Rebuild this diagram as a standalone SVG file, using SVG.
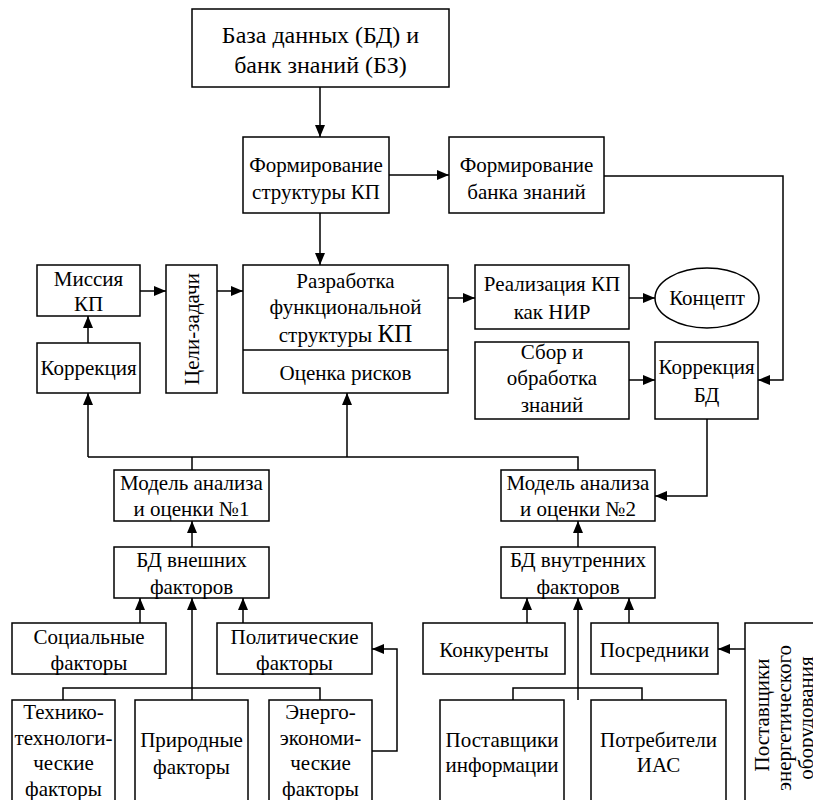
<svg xmlns="http://www.w3.org/2000/svg" width="813" height="800" viewBox="0 0 813 800">
<style>
.n rect,.n ellipse{fill:#fff;stroke:#000;stroke-width:1.5}
text{font-family:'Liberation Serif','Times New Roman',serif;font-size:21px;fill:#000;text-anchor:middle}
.c path,.c line{fill:none;stroke:#000;stroke-width:1.5}
.big{font-size:24px}
</style>
<defs>
<marker id="a" markerUnits="userSpaceOnUse" markerWidth="12" markerHeight="10" refX="12" refY="5" orient="auto">
<path d="M0,0 L12,5 L0,10 Z" fill="#000"/>
</marker>
</defs>
<rect x="0" y="0" width="813" height="800" fill="#fff"/>
<g class="c" id="connectors">
<line x1="320" y1="87" x2="320" y2="137" marker-end="url(#a)"/>
<line x1="389" y1="175" x2="449" y2="175" marker-end="url(#a)"/>
<path d="M604,176 H783 V380 H758" marker-end="url(#a)"/>
<line x1="320" y1="213" x2="320" y2="265" marker-end="url(#a)"/>
<line x1="140" y1="291" x2="166" y2="291" marker-end="url(#a)"/>
<line x1="217" y1="291" x2="243" y2="291" marker-end="url(#a)"/>
<line x1="88" y1="343" x2="88" y2="316" marker-end="url(#a)"/>
<line x1="448" y1="298" x2="475" y2="298" marker-end="url(#a)"/>
<line x1="629" y1="298" x2="655" y2="298" marker-end="url(#a)"/>
<line x1="629" y1="380" x2="655" y2="380" marker-end="url(#a)"/>
<path d="M707,419 V496 H655" marker-end="url(#a)"/>
<path d="M88,457 H578 V470"/>
<line x1="88" y1="457" x2="88" y2="393" marker-end="url(#a)"/>
<line x1="347" y1="457" x2="347" y2="393" marker-end="url(#a)"/>
<line x1="192" y1="470" x2="192" y2="457"/>
<line x1="192" y1="547" x2="192" y2="521" marker-end="url(#a)"/>
<line x1="578" y1="547" x2="578" y2="521" marker-end="url(#a)"/>
<line x1="140" y1="623" x2="140" y2="598" marker-end="url(#a)"/>
<line x1="243" y1="623" x2="243" y2="598" marker-end="url(#a)"/>
<line x1="192" y1="700" x2="192" y2="598" marker-end="url(#a)"/>
<path d="M63,700 V688 H320 V700"/>
<path d="M372,751 H397 V649 H372" marker-end="url(#a)"/>
<line x1="527" y1="623" x2="527" y2="598" marker-end="url(#a)"/>
<line x1="629" y1="623" x2="629" y2="598" marker-end="url(#a)"/>
<line x1="578" y1="700" x2="578" y2="598" marker-end="url(#a)"/>
<path d="M513,700 V688 H642 V700"/>
<line x1="745" y1="649" x2="718" y2="649" marker-end="url(#a)"/>
</g>
<g class="n" id="n-bd-bz"><rect x="192" y="9" width="257" height="78"/><text class="big" x="320.5" y="43">База данных (БД) и</text><text class="big" x="320.5" y="73">банк знаний (БЗ)</text></g>
<g class="n" id="n-form-str"><rect x="243" y="137" width="146" height="76"/><text x="316" y="172">Формирование</text><text x="316" y="199">структуры КП</text></g>
<g class="n" id="n-form-bank"><rect x="449" y="137" width="155" height="76"/><text x="526.5" y="172">Формирование</text><text x="526.5" y="199">банка знаний</text></g>
<g class="n" id="n-missiya"><rect x="37" y="265" width="103" height="51"/><text x="88.5" y="286">Миссия</text><text x="88.5" y="311">КП</text></g>
<g class="n" id="n-korr"><rect x="37" y="343" width="103" height="50"/><text x="88.5" y="375">Коррекция</text></g>
<g class="n" id="n-celi"><rect x="166" y="265" width="51" height="128"/><text transform="translate(199,329) rotate(-90)" x="0" y="0">Цели-задачи</text></g>
<g class="n" id="n-razrab"><rect x="243" y="265" width="205" height="128"/><line x1="243" y1="350" x2="448" y2="350" stroke="#000" stroke-width="1.5"/><text x="345.5" y="288">Разработка</text><text x="345.5" y="314">функциональной</text><text x="345.5" y="342">структуры <tspan font-size="25">КП</tspan></text><text x="345.5" y="380">Оценка рисков</text></g>
<g class="n" id="n-real"><rect x="475" y="265" width="154" height="64"/><text x="552" y="291">Реализация КП</text><text x="552" y="319">как НИР</text></g>
<g class="n" id="n-koncept"><ellipse cx="707" cy="298" rx="52" ry="30"/><text x="707" y="305">Концепт</text></g>
<g class="n" id="n-sbor"><rect x="475" y="342" width="154" height="77"/><text x="552" y="359">Сбор и</text><text x="552" y="385">обработка</text><text x="552" y="412">знаний</text></g>
<g class="n" id="n-korr-bd"><rect x="655" y="342" width="103" height="77"/><text x="706.5" y="374">Коррекция</text><text x="706.5" y="402">БД</text></g>
<g class="n" id="n-model1"><rect x="114" y="470" width="155" height="51"/><text x="191.5" y="490">Модель анализа</text><text x="191.5" y="516">и оценки №1</text></g>
<g class="n" id="n-model2"><rect x="501" y="470" width="154" height="51"/><text x="578" y="490">Модель анализа</text><text x="578" y="516">и оценки №2</text></g>
<g class="n" id="n-bd-vnesh"><rect x="114" y="547" width="155" height="51"/><text x="191.5" y="567">БД внешних</text><text x="191.5" y="594">факторов</text></g>
<g class="n" id="n-bd-vnutr"><rect x="501" y="547" width="154" height="51"/><text x="578" y="567">БД внутренних</text><text x="578" y="594">факторов</text></g>
<g class="n" id="n-soc"><rect x="12" y="623" width="154" height="51"/><text x="89" y="644">Социальные</text><text x="89" y="670">факторы</text></g>
<g class="n" id="n-polit"><rect x="217" y="623" width="155" height="51"/><text x="294.5" y="644">Политические</text><text x="294.5" y="670">факторы</text></g>
<g class="n" id="n-tehn"><rect x="12" y="700" width="103" height="110"/><text x="63.5" y="719">Технико-</text><text x="63.5" y="745">технологи-</text><text x="63.5" y="770">ческие</text><text x="63.5" y="796">факторы</text></g>
<g class="n" id="n-prir"><rect x="135" y="700" width="113" height="110"/><text x="191.5" y="747">Природные</text><text x="191.5" y="774">факторы</text></g>
<g class="n" id="n-energo"><rect x="269" y="700" width="103" height="110"/><text x="320.5" y="719">Энерго-</text><text x="320.5" y="745">экономи-</text><text x="320.5" y="770">ческие</text><text x="320.5" y="796">факторы</text></g>
<g class="n" id="n-konk"><rect x="423" y="623" width="142" height="51"/><text x="494" y="657">Конкуренты</text></g>
<g class="n" id="n-posr"><rect x="591" y="623" width="127" height="51"/><text x="654.5" y="657">Посредники</text></g>
<g class="n" id="n-post-inf"><rect x="440" y="700" width="124" height="110"/><text x="502" y="747">Поставщики</text><text x="502" y="772">информации</text></g>
<g class="n" id="n-potr"><rect x="591" y="700" width="135" height="110"/><text x="658.5" y="747">Потребители</text><text x="658.5" y="772">ИАС</text></g>
<g class="n" id="n-post-en"><rect x="745" y="623" width="90" height="190"/><text transform="translate(715,0) rotate(-90)"><tspan x="-715" y="54">Поставщики</tspan><tspan x="-718" y="76">энергетического</tspan><tspan x="-718" y="98">оборудования</tspan></text></g>
</svg>
